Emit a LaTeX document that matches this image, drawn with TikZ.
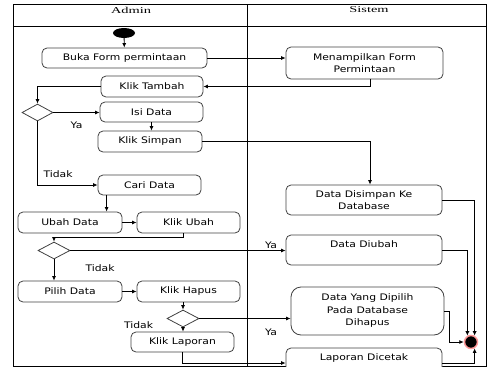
\documentclass[tikz,border=0pt]{standalone}
\usepackage{fontspec}
\newfontfamily\boxfont[FakeStretch=1.2]{DejaVu Sans}
\newfontfamily\headfont[FakeStretch=1.6]{Liberation Serif}
\usetikzlibrary{shapes.geometric,arrows.meta}
\begin{document}
\begin{tikzpicture}[x=1pt,y=-1pt,>={Latex[length=4.5pt,width=4pt]},
	every node/.style={font=\boxfont\fontsize{9}{12.5}\selectfont},
	act/.style={draw=black!75,line width=0.8pt,rounded corners=5pt,minimum height=20pt,inner sep=1pt,align=center},
	dec/.style={diamond,draw=black!75,line width=0.8pt,minimum width=31pt,minimum height=17pt,inner sep=0pt},
	start/.style={ellipse,fill=black,minimum width=22pt,minimum height=10pt,inner sep=0pt},
	stop/.style={circle,fill=black,draw=red!40,line width=1.5pt,minimum size=13pt,inner sep=0pt},
	lane/.style={font=\headfont\fontsize{9}{10}\selectfont},
	flow/.style={->,line width=0.8pt}]
	\useasboundingbox (0,0) rectangle (493,367);
	% swimlanes
	\draw[line width=1pt] (13,4) rectangle (486,366);
	\draw[line width=1pt] (13,26) -- (486,26);
	\draw[line width=1pt] (247,4) -- (247,366);
	\node (h1) [lane] at (131,10) {Admin};
	\node (h2) [lane] at (369,10) {Sistem};
	
	\node (n0) [start] at (124,33) {};
	\node (n1) [act,minimum width=165pt] at (124.5,58) {Buka Form permintaan};
	\node (n2) [act,minimum width=157pt,minimum height=32pt] at (364.5,63) {Menampilkan Form\\Permintaan};
	\node (n3) [act,minimum width=102pt,minimum height=21pt] at (152,86.5) {Klik Tambah};
	\node (d1) [dec] at (37.5,112.5) {};
	\node (n4) [act,minimum width=103pt] at (151.5,112) {Isi Data};
	\node (n5) [act,minimum width=104pt,minimum height=21pt] at (150,141.5) {Klik Simpan};
	\node (n6) [act,minimum width=103pt] at (149.5,185) {Cari Data};
	\node (n7) [act,minimum width=156pt,minimum height=30pt] at (364,200) {Data Disimpan Ke\\Database};
	\node (n8) [act,minimum width=104pt,minimum height=21pt] at (70,222.5) {Ubah Data};
	\node (n9) [act,minimum width=103pt,minimum height=21pt] at (188.5,222.5) {Klik Ubah};
	\node (d2) [dec,minimum width=32pt] at (54,250.5) {};
	\node (n10) [act,minimum width=156pt,minimum height=30pt] at (364,250) {Data Diubah\\\mbox{}};
	\node (n11) [act,minimum width=104pt,minimum height=21pt] at (70,291.5) {Pilih Data};
	\node (n12) [act,minimum width=103pt,minimum height=21pt] at (188.5,291.5) {Klik Hapus};
	\node (d3) [dec,minimum width=32pt] at (183,318.5) {};
	\node (n13) [act,minimum width=153pt,minimum height=48pt,rounded corners=10pt] at (367.5,311) {Data Yang Dipilih\\Pada Database\\Dihapus};
	\node (n14) [act,minimum width=103pt] at (182.5,342) {Klik Laporan};
	\node (n15) [act,minimum width=156pt,minimum height=30pt,fill=white] at (364,363) {Laporan Dicetak\\\mbox{}};
	\node (n16) [stop] at (471,342) {};
	
	\node (l1) at (76.5,125) {Ya};
	\node (l2) at (58,174) {Tidak};
	\node (l3) at (271,245) {Ya};
	\node (l4) at (100,268) {Tidak};
	\node (l5) at (138.5,325) {Tidak};
	\node (l6) at (271,332) {Ya};
	
	\draw[flow] (n0) -- (n1);
	\draw[flow] (n1) -- (n1 -| n2.west);
	\draw[flow] ([xshift=6]n2.south) |- (n3.east);
	\draw[flow] (n3.west) -| (d1.north);
	\draw[flow] (d1.east) -- (d1.east -| n4.west);
	\draw[flow] (n4.south) -- (n4.south |- n5.north);
	\draw[flow] (d1.south) |- (n6.west);
	\draw[flow] (n5.east) -| ([xshift=6]n7.north);
	\draw[flow] ([xshift=9]n6.south west) -- ([xshift=9]n6.south west |- n8.north);
	\draw[flow] (n8) -- (n9);
	\draw[flow] ([xshift=-5]n9.south) -- ++(0,4) -| (d2.north);
	\draw[flow] (d2.east) -- (d2.east -| n10.west);
	\draw[flow] (d2.south) -- (d2.south |- n11.north);
	\draw[flow] (n11) -- (n12);
	\draw[flow] (d3.north |- n12.south) -- (d3.north);
	\draw[flow] (d3.east) -- (d3.east -| n13.west);
	\draw[flow] (d3.south) -- (d3.south |- n14.north);
	\draw[flow] (n14.south) |- (n15.west);
	\draw[flow] (n7.east) -| (n16.60);
	\draw[flow] (n10.east) -| (n16.120);
	\draw[flow] (n13.east) -- ++(5,0) |- (n16.west);
	\draw[flow] (n15.east) -| (n16.-60);
\end{tikzpicture}
\end{document}
